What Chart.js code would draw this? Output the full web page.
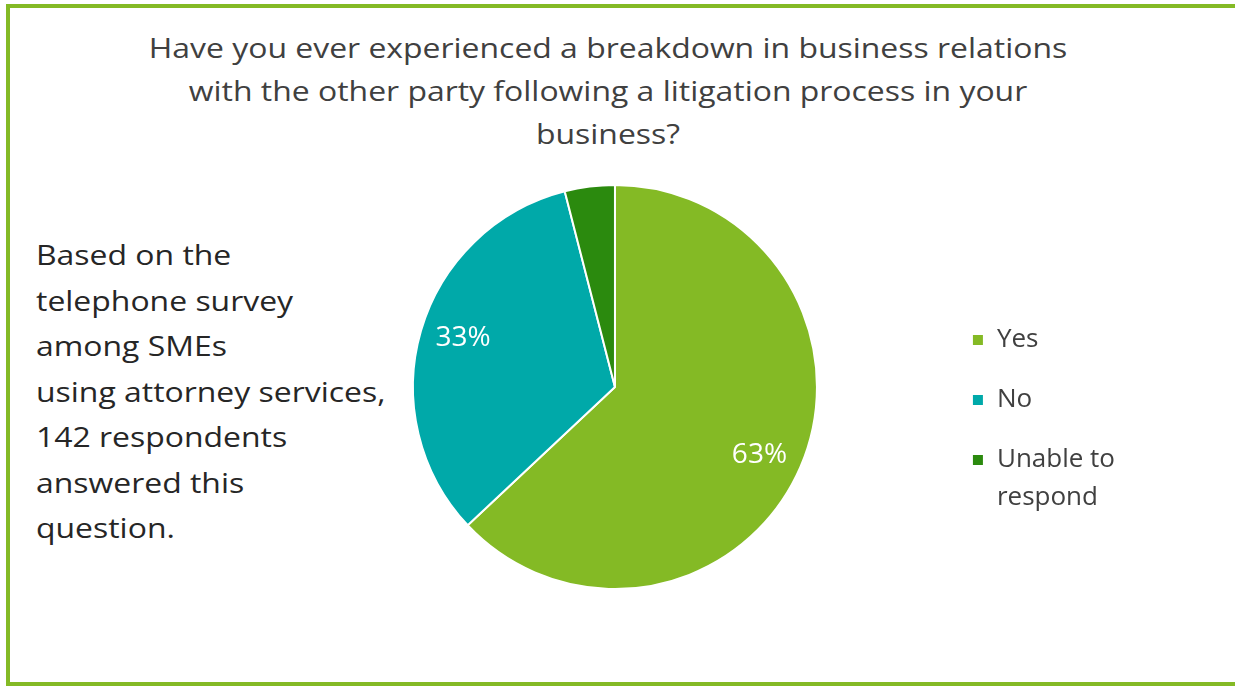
<!DOCTYPE html>
<html>
<head>
<meta charset="utf-8">
<script src="https://cdn.jsdelivr.net/npm/chart.js@4"></script>
<style>
  body { margin: 0; background: #fff; font-family: "Open Sans", sans-serif; }
  #wrap { position: relative; width: 1235px; height: 686px; overflow: hidden; }
  #frame {
    position: absolute; left: 6px; top: 4px; right: -10px; bottom: 0;
    border: 4px solid #84ba25; border-right: none;
  }
  #title {
    position: absolute; left: 0; top: 26px; width: 1216px;
    text-align: center; font-size: 28px; line-height: 43px; color: #404040;
    transform: scaleX(1.14); transform-origin: 608px 0;
  }
  #note {
    position: absolute; left: 36px; top: 232px;
    font-size: 28px; line-height: 45.5px; color: #262626;
    transform: scaleX(1.14); transform-origin: 0 0;
  }
  canvas { position: absolute; left: 0; top: 0; }
</style>
</head>
<body>
<div id="wrap">
  <div id="frame"></div>
  <div id="title">Have you ever experienced a breakdown in business relations<br>with the other party following a litigation process in your<br>business?</div>
  <div id="note">Based on the<br>telephone survey<br>among SMEs<br>using attorney services,<br>142 respondents<br>answered this<br>question.</div>
  <canvas id="pieChart" width="1235" height="686"></canvas>
</div>
<script>
// Survey answers (percent of 142 respondents)
const categories = ['Yes', 'No', ['Unable to', 'respond']];
const shares = [63, 33, 4];
const sliceColors = ['#84ba25', '#00a9a9', '#2b8a0e'];

// Percent labels inside the larger slices
const sliceLabels = {
    id: 'sliceLabels',
    afterDatasetsDraw(chart) {
        const ctx = chart.ctx;
        const meta = chart.getDatasetMeta(0);
        ctx.save();
        ctx.fillStyle = '#ffffff';
        ctx.font = '28px "Open Sans"';
        ctx.textAlign = 'center';
        ctx.textBaseline = 'middle';
        meta.data.forEach((arc, i) => {
            if (shares[i] < 10) return;
            const p = arc.getProps(['x', 'y', 'startAngle', 'endAngle', 'outerRadius'], true);
            const mid = (p.startAngle + p.endAngle) / 2 + 0.03;
            const r = p.outerRadius * 0.79;
            ctx.fillText(shares[i] + '%', p.x + Math.cos(mid) * r, p.y + Math.sin(mid) * r);
        });
        ctx.restore();
    }
};

const ctx = document.getElementById('pieChart').getContext('2d');
new Chart(ctx, {
    type: 'pie',
    data: {
        labels: categories,
        datasets: [{
            data: shares,
            backgroundColor: sliceColors,
            borderColor: '#ffffff',
            borderWidth: 2
        }]
    },
    options: {
        responsive: false,
        animation: false,
        layout: {
            padding: { left: 292, right: 110, top: 184, bottom: 96 }
        },
        plugins: {
            legend: {
                position: 'right',
                title: {
                    display: true,
                    text: '',
                    font: { size: 10, lineHeight: 1 },
                    padding: { top: 66, bottom: 0 }
                },
                labels: {
                    boxWidth: 12,
                    boxHeight: 12,
                    padding: 34,
                    color: '#404040',
                    font: { family: 'Open Sans', size: 26, lineHeight: 1.46 }
                }
            },
            tooltip: { enabled: false }
        }
    },
    plugins: [sliceLabels]
});
</script>
</body>
</html>
